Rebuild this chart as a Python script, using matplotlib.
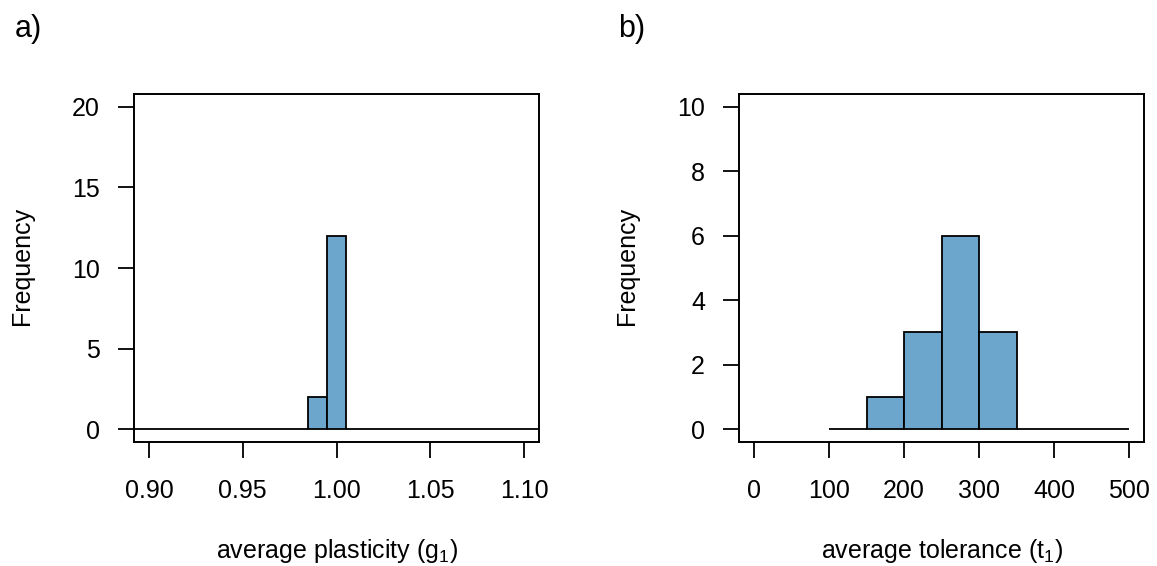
import matplotlib
matplotlib.use("Agg")
import matplotlib.pyplot as plt
import matplotlib.transforms as mtransforms
import numpy as np

plt.rcParams['font.family'] = ['Liberation Sans', 'DejaVu Sans']
plt.rcParams['mathtext.fontset'] = 'custom'
plt.rcParams['mathtext.rm'] = 'Liberation Sans'
plt.rcParams['mathtext.it'] = 'Liberation Sans'

# Panel a data
a_bin_start = 0.885
a_bin_width = 0.01
a_counts = [0, 0, 0, 0, 0, 0, 0, 0, 0, 0, 2, 12, 0, 0, 0, 0, 0, 0, 0, 0, 0, 0, 0]
a_xticks = [0.90, 0.95, 1.00, 1.05, 1.10]
a_xticklabels = ["0.90", "0.95", "1.00", "1.05", "1.10"]
a_yticks = [0, 5, 10, 15, 20]

# Panel b data
b_bin_start = 100
b_bin_width = 50
b_counts = [0, 1, 3, 6, 3, 0, 0, 0]
b_xticks = [0, 100, 200, 300, 400, 500]
b_yticks = [0, 2, 4, 6, 8, 10]

bar_color = "#6CA6CD"
fs = 18

W, H = 1157, 566
fig = plt.figure(figsize=(W / 100, H / 100), dpi=100)
ax_a = fig.add_axes([134 / W, (H - 442) / H, 405 / W, 348 / H])
ax_b = fig.add_axes([739 / W, (H - 442) / H, 405 / W, 348 / H])

def draw(ax, start, width, counts, xticks, xlabels, yticks, xlim, ylim, xlabel):
    lefts = start + width * np.arange(len(counts))
    ax.bar(lefts, counts, width=width, align='edge', color=bar_color,
           edgecolor='black', linewidth=1.3, clip_on=True)
    ax.set_xlim(*xlim)
    ax.set_ylim(*ylim)
    ax.set_xticks(xticks)
    ax.set_xticklabels(xlabels, fontsize=fs)
    ax.set_yticks(yticks)
    ax.set_yticklabels([str(v) for v in yticks], fontsize=fs)
    ax.tick_params(axis='both', direction='out', length=11.5, width=1.3)
    ax.tick_params(axis='x', pad=15)
    ax.tick_params(axis='y', pad=13)
    for s in ax.spines.values():
        s.set_linewidth(1.4)
    trans = mtransforms.blended_transform_factory(ax.transAxes, fig.transFigure)
    ax.text(0.5, 8 / H, xlabel, transform=trans, fontsize=fs,
            ha='center', va='baseline')
    bb = ax.get_position()
    fig.text(bb.x0 - 112 / W, 0.530, "Frequency", rotation=90, fontsize=fs,
             ha='center', va='center')

draw(ax_a, a_bin_start, a_bin_width, a_counts, a_xticks, a_xticklabels, a_yticks,
     (0.892, 1.108), (-0.8, 20.8), "average plasticity (g$_1$)")
draw(ax_b, b_bin_start, b_bin_width, b_counts, b_xticks, [str(v) for v in b_xticks], b_yticks,
     (-20, 520), (-0.4, 10.4), "average tolerance (t$_1$)")

fig.text(15 / W, 1 - 14 / H, "a)", fontsize=22, va='top', ha='left')
fig.text(618 / W, 1 - 14 / H, "b)", fontsize=22, va='top', ha='left')

fig.savefig("out.png", dpi=100)
